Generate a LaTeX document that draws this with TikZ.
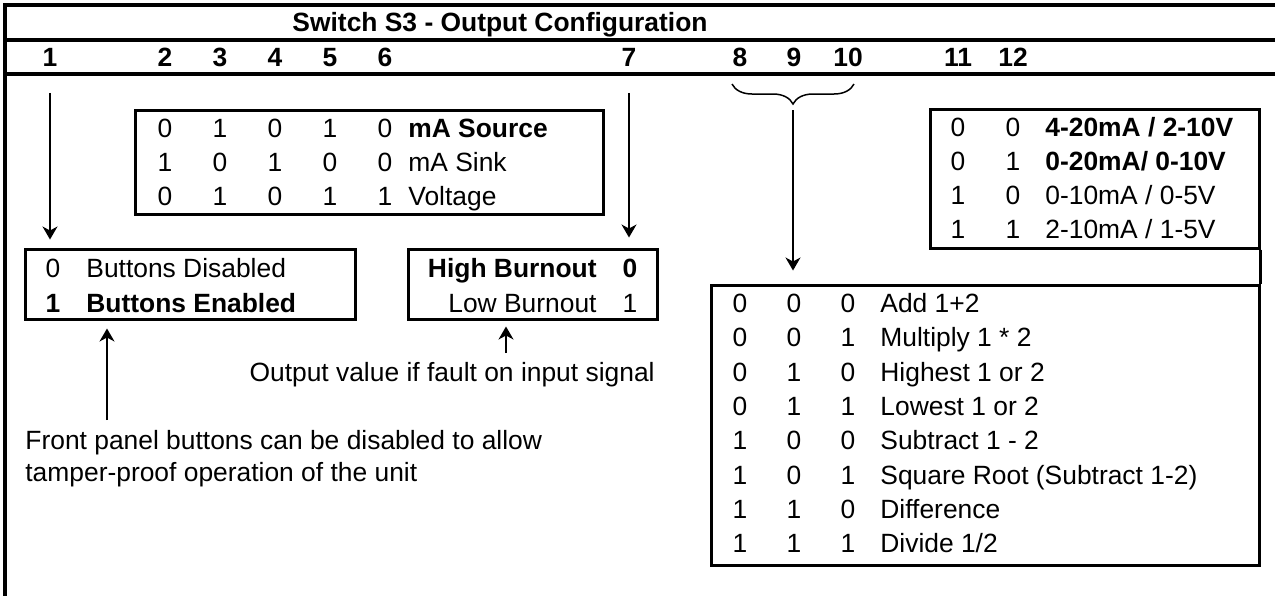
\documentclass[tikz,border=0pt]{standalone}
\usepackage{fontspec}
\setmainfont{Liberation Sans}
\usetikzlibrary{arrows.meta,fit,decorations.pathreplacing}
\tikzset{
    cfgbox/.style = {draw, line width=1.5pt, inner sep=0pt},
    cell/.style = {inner sep=0pt, text height=9.5pt, text depth=0pt},
    hdr/.style = {cell, font=\fontsize{13.2}{15}\selectfont\bfseries},
    cfgarrow/.style = {-{Stealth[length=6.5pt,width=7.5pt,inset=2pt]}, line width=0.75pt},
    frameline/.style = {line width=1.6pt}
}
\begin{document}
\begin{tikzpicture}[line join=miter,x=0.5pt,y=-0.5pt,font=\fontsize{13.2}{15}\selectfont]
    \useasboundingbox (0,0) rectangle (1275,596);

    % frame and header
    \draw [frameline] (1275,5) -- (5,5) -- (5,596);
    \draw [frameline] (5,40) -- (1275,40);
    \draw [frameline] (5,74) -- (1275,74);
    \node [hdr] (title) at (500,22) {Switch S3 - Output Configuration};
    \foreach \n/\x in {1/50,2/165,3/220,4/275,5/330,6/385,7/629,8/740,9/794,10/848,11/958,12/1013}
        \node [hdr] (n\n) at (\x,57) {\n};

    % output type, switches 2-6
    \node [cfgbox, fit={(135,110) (603,214)}] (outtype) {};
    \foreach \r/\bits/\txt in {1/{0,1,0,1,0}/{\textbf{mA Source}}, 2/{1,0,1,0,0}/{mA Sink}, 3/{0,1,0,1,1}/{Voltage}} {
        \foreach \b [count=\c] in \bits
            \node [cell] (ot\r\c) at ({110+55*\c},{94+34*\r}) {\b};
        \node [cell, anchor=west] (ot\r t) at (408,{94+34*\r}) {\txt};
    }

    % buttons, switch 1
    \node [cfgbox, fit={(25,249) (355,319)}] (btn) {};
    \node [cell] (btn0) at (53,268) {0};
    \node [cell, anchor=west] (btn0t) at (86,268) {Buttons Disabled};
    \node [cell, font=\fontsize{13.2}{15}\selectfont\bfseries] (btn1) at (53,303) {1};
    \node [cell, anchor=west, font=\fontsize{13.2}{15}\selectfont\bfseries] (btn1t) at (86,303) {Buttons Enabled};

    % burnout, switch 7
    \node [cfgbox, fit={(408,249) (657,319)}] (burn) {};
    \node [cell, anchor=east, font=\fontsize{13.2}{15}\selectfont\bfseries] (burn0t) at (597,268) {High Burnout};
    \node [cell, font=\fontsize{13.2}{15}\selectfont\bfseries] (burn0) at (630,268) {0};
    \node [cell, anchor=east] (burn1t) at (597,303) {Low Burnout};
    \node [cell] (burn1) at (630,303) {1};

    % range, switches 11-12
    \node [cfgbox, fit={(930,109) (1259,248)}] (range) {};
    \foreach \r/\bits/\txt in {1/{0,0}/{\textbf{4-20mA / 2-10V}}, 2/{0,1}/{\textbf{0-20mA/ 0-10V}}, 3/{1,0}/{0-10mA / 0-5V}, 4/{1,1}/{2-10mA / 1-5V}} {
        \foreach \b [count=\c] in \bits
            \node [cell] (rg\r\c) at ({903+55*\c},{93+34*\r}) {\b};
        \node [cell, anchor=west] (rg\r t) at (1045,{93+34*\r}) {\txt};
    }

    % function, switches 8-10
    \node [cfgbox, fit={(711,285) (1259,565)}] (func) {};
    \foreach \r/\bits/\txt in {1/{0,0,0}/{Add 1+2}, 2/{0,0,1}/{Multiply 1 * 2}, 3/{0,1,0}/{Highest 1 or 2}, 4/{0,1,1}/{Lowest 1 or 2},
                                5/{1,0,0}/{Subtract 1 - 2}, 6/{1,0,1}/{Square Root (Subtract 1-2)}, 7/{1,1,0}/{Difference}, 8/{1,1,1}/{Divide 1/2}} {
        \foreach \b [count=\c] in \bits
            \node [cell] (fn\r\c) at ({686+54*\c},{268.7+34.3*\r}) {\b};
        \node [cell, anchor=west] (fn\r t) at (880,{268.7+34.3*\r}) {\txt};
    }
    \draw [line width=1.5pt] (range.south east) -- (func.north east);

    % notes
    \node [cell, anchor=west] (note1a) at (25,440) {Front panel buttons can be disabled to allow};
    \node [cell, anchor=west] (note1b) at (25,472) {tamper-proof operation of the unit};
    \node [cell, anchor=east] (note2) at (655,372) {Output value if fault on input signal};

    % arrows
    \draw [cfgarrow, shorten <=13pt, shorten >=4pt] (n1) -- (btn.north -| n1);
    \draw [cfgarrow, shorten <=13pt, shorten >=5pt] (n7) -- (burn.north -| n7);
    \draw [decorate, decoration={brace, mirror, amplitude=10pt}, line width=0.75pt] (732,84) -- (854,84);
    \coordinate (fsel) at (793,110);
    \draw [cfgarrow, shorten >=6.5pt] (fsel) -- (func.north -| fsel);
    \coordinate (btnup) at (107,420);
    \draw [cfgarrow, shorten >=4pt] (btnup) -- (btn.south -| btnup);
    \coordinate (burnup) at (506,353);
    \draw [cfgarrow, shorten >=3pt] (burnup) -- (burn.south -| burnup);
\end{tikzpicture}
\end{document}
